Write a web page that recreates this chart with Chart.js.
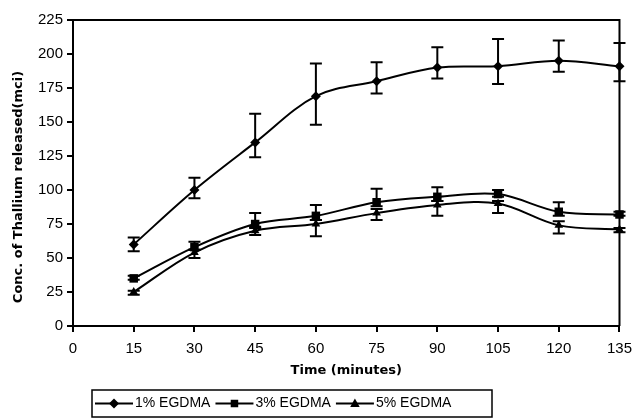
<!DOCTYPE html>
<html>
<head>
<meta charset="utf-8">
<script src="https://cdn.jsdelivr.net/npm/chart.js"></script>
<style>
  body { margin: 0; background: #fff; }
  #wrap { width: 640px; height: 418px; position: relative; }
</style>
</head>
<body>
<div id="wrap"><canvas id="chart"></canvas></div>
<script>
// data
const times = [15, 30, 45, 60, 75, 90, 105, 120, 135];
const seriesNames = ['1% EGDMA', '3% EGDMA', '5% EGDMA'];

const egdma1 = [60, 100, 135, 169, 180, 190, 191, 195, 191];
const egdma1Up = [5, 9, 21, 24, 14, 15, 20, 15, 17];
const egdma1Down = [5, 6, 11, 21, 9, 8, 13, 8, 11];

const egdma3 = [35, 58, 75, 81, 91, 95, 97, 84, 82];
const egdma3Up = [2, 4, 8, 8, 10, 7, 3, 7, 2];
const egdma3Down = [1, 2, 3, 3, 3, 3, 2, 3, 1];

const egdma5 = [25, 54, 70, 75, 83, 89, 90, 74, 71];
const egdma5Up = [1, 2, 3, 3, 3, 3, 2, 3, 1];
const egdma5Down = [2, 4, 3, 9, 5, 8, 7, 6, 2];

const xTicks = [0, 15, 30, 45, 60, 75, 90, 105, 120, 135];
const yTicks = [0, 25, 50, 75, 100, 125, 150, 175, 200, 225];

const pointStyles = ['rectRot', 'rect', 'triangle'];
const errUp = [egdma1Up, egdma3Up, egdma5Up];
const errDown = [egdma1Down, egdma3Down, egdma5Down];

const toPoints = (vals) => times.map((t, i) => ({ x: t, y: vals[i] }));

function drawMarker(ctx, style, x, y, r) {
  ctx.beginPath();
  if (style === 'rectRot') {
    ctx.moveTo(x, y - r); ctx.lineTo(x + r, y); ctx.lineTo(x, y + r); ctx.lineTo(x - r, y);
  } else if (style === 'rect') {
    const s = r * 0.75;
    ctx.rect(x - s, y - s, 2 * s, 2 * s);
  } else {
    ctx.moveTo(x, y - r); ctx.lineTo(x + r * 0.95, y + r * 0.7); ctx.lineTo(x - r * 0.95, y + r * 0.7);
  }
  ctx.closePath();
  ctx.fill();
}

// frame on top/right, error bars, legend box
const extras = {
  id: 'extras',
  afterDatasetsDraw(chart) {
    const { ctx, chartArea: a, scales } = chart;
    ctx.save();
    ctx.strokeStyle = '#000';
    ctx.lineWidth = 2;
    ctx.beginPath();
    ctx.moveTo(a.left, a.top); ctx.lineTo(a.right, a.top); ctx.lineTo(a.right, a.bottom);
    ctx.stroke();

    chart.data.datasets.forEach((ds, i) => {
      ds.data.forEach((p, j) => {
        const x = scales.x.getPixelForValue(p.x);
        const yt = scales.y.getPixelForValue(p.y + errUp[i][j]);
        const yb = scales.y.getPixelForValue(p.y - errDown[i][j]);
        ctx.beginPath();
        ctx.moveTo(x, yt); ctx.lineTo(x, yb);
        ctx.moveTo(x - 6, yt); ctx.lineTo(x + 6, yt);
        ctx.moveTo(x - 6, yb); ctx.lineTo(x + 6, yb);
        ctx.stroke();
      });
    });

    // y title drawn by hand, it sits a bit below the middle of the axis
    ctx.translate(19, 187);
    ctx.rotate(-Math.PI / 2);
    ctx.font = 'bold 13px "DejaVu Sans", sans-serif';
    ctx.fillStyle = '#000';
    ctx.textAlign = 'center';
    ctx.textBaseline = 'middle';
    ctx.fillText('Conc. of Thallium released(mci)', 0, 0);
    ctx.restore();
  },
  afterDraw(chart) {
    const ctx = chart.ctx;
    ctx.save();
    ctx.strokeStyle = '#000';
    ctx.lineWidth = 1.5;
    ctx.strokeRect(92, 390, 400, 27);
    ctx.font = '14px "Liberation Sans", Arial, sans-serif';
    ctx.textBaseline = 'middle';
    ctx.fillStyle = '#000';
    let x = 95;
    const y = 403.5;
    seriesNames.forEach((name, i) => {
      ctx.lineWidth = 2;
      ctx.beginPath();
      ctx.moveTo(x, y); ctx.lineTo(x + 38, y);
      ctx.stroke();
      drawMarker(ctx, pointStyles[i], x + 19, y, 5);
      ctx.fillText(name, x + 40, y);
      x += 40 + ctx.measureText(name).width + 5;
    });
    ctx.restore();
  }
};

new Chart(document.getElementById('chart'), {
  type: 'line',
  data: {
    datasets: [egdma1, egdma3, egdma5].map((vals, i) => ({
      label: seriesNames[i],
      data: toPoints(vals),
      borderColor: '#000',
      backgroundColor: '#000',
      borderWidth: 2,
      pointStyle: pointStyles[i],
      pointRadius: i === 1 ? 6 : 5,
      pointBorderWidth: 0,
      tension: 0.35,
      clip: false,
    })),
  },
  options: {
    responsive: true,
    maintainAspectRatio: false,
    animation: false,
    layout: { padding: { top: 20, right: 13, bottom: 32, left: 0 } },
    plugins: { legend: { display: false }, tooltip: { enabled: false } },
    scales: {
      x: {
        type: 'linear',
        min: 0,
        max: 135,
        afterBuildTicks: (s) => { s.ticks = xTicks.map(v => ({ value: v })); },
        afterFit: (s) => { s.height = 60; },
        ticks: { color: '#000', padding: 8, maxRotation: 0, font: { size: 15, family: '"Liberation Sans", Arial' } },
        grid: { drawOnChartArea: false, tickLength: 6, color: '#000', lineWidth: 2 },
        border: { color: '#000', width: 2 },
        title: {
          display: true,
          text: 'Time (minutes)',
          color: '#000',
          padding: { top: 0, bottom: 8 },
          font: { size: 13, weight: 'bold', family: '"DejaVu Sans", sans-serif' },
        },
      },
      y: {
        min: 0,
        max: 225,
        afterBuildTicks: (s) => { s.ticks = yTicks.map(v => ({ value: v })); },
        afterFit: (s) => { s.width = 73; },
        ticks: { color: '#000', padding: 4, font: { size: 15, family: '"Liberation Sans", Arial' } },
        grid: { drawOnChartArea: false, tickLength: 6, color: '#000', lineWidth: 2 },
        border: { color: '#000', width: 2 },
      },
    },
  },
  plugins: [extras],
});
</script>
</body>
</html>
